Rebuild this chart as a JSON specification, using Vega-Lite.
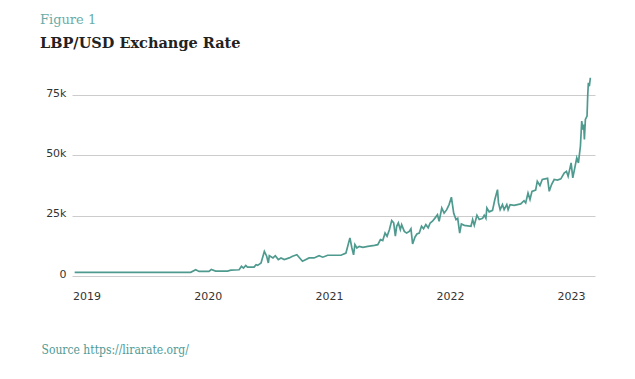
{
  "$schema": "https://vega.github.io/schema/vega-lite/v6.json",
  "width": 523,
  "height": 205,
  "padding": {"left": 40, "top": 13, "right": 41, "bottom": 10},
  "background": "white",
  "title": {
    "text": "Figure 1",
    "subtitle": "LBP/USD Exchange Rate",
    "anchor": "start",
    "frame": "bounds",
    "dx": -1,
    "font": "DejaVu Serif",
    "fontSize": 13,
    "fontWeight": "normal",
    "color": "#6aada8",
    "subtitleFont": "DejaVu Serif",
    "subtitleFontSize": 14.5,
    "subtitleFontWeight": "bold",
    "subtitleColor": "#222222",
    "subtitlePadding": 10,
    "offset": 21
  },
  "data": {
    "values": [
      {"date": "2018-11-26", "rate": 1507},
      {"date": "2019-11-11", "rate": 1507},
      {"date": "2019-11-26", "rate": 2600},
      {"date": "2019-12-06", "rate": 1900},
      {"date": "2020-01-05", "rate": 1950},
      {"date": "2020-01-12", "rate": 2700},
      {"date": "2020-01-25", "rate": 2050},
      {"date": "2020-02-09", "rate": 2050},
      {"date": "2020-03-01", "rate": 2050},
      {"date": "2020-03-11", "rate": 2400},
      {"date": "2020-04-05", "rate": 2600},
      {"date": "2020-04-12", "rate": 4000},
      {"date": "2020-04-18", "rate": 3300},
      {"date": "2020-04-25", "rate": 4400},
      {"date": "2020-04-30", "rate": 3700},
      {"date": "2020-05-20", "rate": 3700},
      {"date": "2020-05-26", "rate": 4700},
      {"date": "2020-05-31", "rate": 4400},
      {"date": "2020-06-10", "rate": 5400},
      {"date": "2020-06-20", "rate": 10200},
      {"date": "2020-06-27", "rate": 8200},
      {"date": "2020-07-02", "rate": 5400},
      {"date": "2020-07-05", "rate": 8400},
      {"date": "2020-07-16", "rate": 7500},
      {"date": "2020-07-23", "rate": 8400},
      {"date": "2020-08-01", "rate": 6800},
      {"date": "2020-08-09", "rate": 7500},
      {"date": "2020-08-19", "rate": 6800},
      {"date": "2020-09-03", "rate": 7500},
      {"date": "2020-09-13", "rate": 8200},
      {"date": "2020-09-26", "rate": 8800},
      {"date": "2020-10-13", "rate": 6100},
      {"date": "2020-11-02", "rate": 7500},
      {"date": "2020-11-17", "rate": 7500},
      {"date": "2020-12-02", "rate": 8400},
      {"date": "2020-12-13", "rate": 7800},
      {"date": "2020-12-28", "rate": 8600},
      {"date": "2021-02-06", "rate": 8600},
      {"date": "2021-02-21", "rate": 9500},
      {"date": "2021-03-05", "rate": 15800},
      {"date": "2021-03-11", "rate": 11600},
      {"date": "2021-03-16", "rate": 8800},
      {"date": "2021-03-20", "rate": 13000},
      {"date": "2021-03-26", "rate": 11600},
      {"date": "2021-04-02", "rate": 12300},
      {"date": "2021-04-13", "rate": 11900},
      {"date": "2021-04-28", "rate": 12300},
      {"date": "2021-05-18", "rate": 12700},
      {"date": "2021-05-28", "rate": 13000},
      {"date": "2021-06-05", "rate": 15100},
      {"date": "2021-06-12", "rate": 14700},
      {"date": "2021-06-19", "rate": 17800},
      {"date": "2021-06-25", "rate": 16500},
      {"date": "2021-07-02", "rate": 19200},
      {"date": "2021-07-09", "rate": 23000},
      {"date": "2021-07-15", "rate": 22000},
      {"date": "2021-07-20", "rate": 16500},
      {"date": "2021-07-24", "rate": 20600},
      {"date": "2021-07-29", "rate": 22000},
      {"date": "2021-08-04", "rate": 19200},
      {"date": "2021-08-08", "rate": 21300},
      {"date": "2021-08-16", "rate": 18500},
      {"date": "2021-08-23", "rate": 17800},
      {"date": "2021-08-31", "rate": 18500},
      {"date": "2021-09-05", "rate": 19600},
      {"date": "2021-09-10", "rate": 13300},
      {"date": "2021-09-17", "rate": 16100},
      {"date": "2021-09-23", "rate": 17400},
      {"date": "2021-09-30", "rate": 17800},
      {"date": "2021-10-07", "rate": 20600},
      {"date": "2021-10-13", "rate": 19600},
      {"date": "2021-10-20", "rate": 21300},
      {"date": "2021-10-27", "rate": 20000},
      {"date": "2021-11-02", "rate": 22000},
      {"date": "2021-11-09", "rate": 22700},
      {"date": "2021-11-17", "rate": 24100},
      {"date": "2021-11-24", "rate": 25400},
      {"date": "2021-11-29", "rate": 22700},
      {"date": "2021-12-07", "rate": 28200},
      {"date": "2021-12-14", "rate": 26100},
      {"date": "2021-12-22", "rate": 27500},
      {"date": "2021-12-29", "rate": 29600},
      {"date": "2022-01-05", "rate": 32700},
      {"date": "2022-01-12", "rate": 26000},
      {"date": "2022-01-19", "rate": 23400},
      {"date": "2022-01-24", "rate": 23900},
      {"date": "2022-01-30", "rate": 17800},
      {"date": "2022-02-04", "rate": 21600},
      {"date": "2022-02-13", "rate": 21000},
      {"date": "2022-03-05", "rate": 20600},
      {"date": "2022-03-10", "rate": 23400},
      {"date": "2022-03-15", "rate": 21000},
      {"date": "2022-03-23", "rate": 25200},
      {"date": "2022-03-30", "rate": 23400},
      {"date": "2022-04-09", "rate": 23900},
      {"date": "2022-04-14", "rate": 25200},
      {"date": "2022-04-19", "rate": 23900},
      {"date": "2022-04-22", "rate": 28200},
      {"date": "2022-04-29", "rate": 26600},
      {"date": "2022-05-09", "rate": 27200},
      {"date": "2022-05-16", "rate": 31700},
      {"date": "2022-05-24", "rate": 35800},
      {"date": "2022-05-27", "rate": 30300},
      {"date": "2022-06-01", "rate": 27500},
      {"date": "2022-06-08", "rate": 29600},
      {"date": "2022-06-13", "rate": 27500},
      {"date": "2022-06-21", "rate": 29600},
      {"date": "2022-06-25", "rate": 27500},
      {"date": "2022-07-01", "rate": 29600},
      {"date": "2022-07-13", "rate": 29300},
      {"date": "2022-08-02", "rate": 29900},
      {"date": "2022-08-12", "rate": 31200},
      {"date": "2022-08-17", "rate": 30300},
      {"date": "2022-08-24", "rate": 34400},
      {"date": "2022-08-30", "rate": 31700},
      {"date": "2022-09-05", "rate": 35100},
      {"date": "2022-09-16", "rate": 35600},
      {"date": "2022-09-21", "rate": 39300},
      {"date": "2022-09-29", "rate": 37500},
      {"date": "2022-10-06", "rate": 40000},
      {"date": "2022-10-22", "rate": 40500},
      {"date": "2022-10-27", "rate": 35100},
      {"date": "2022-11-03", "rate": 37900},
      {"date": "2022-11-11", "rate": 40000},
      {"date": "2022-11-21", "rate": 39800},
      {"date": "2022-12-01", "rate": 40300},
      {"date": "2022-12-11", "rate": 42700},
      {"date": "2022-12-18", "rate": 43400},
      {"date": "2022-12-23", "rate": 41300},
      {"date": "2023-01-01", "rate": 46900},
      {"date": "2023-01-06", "rate": 40700},
      {"date": "2023-01-11", "rate": 44100},
      {"date": "2023-01-18", "rate": 49000},
      {"date": "2023-01-23", "rate": 46900},
      {"date": "2023-01-29", "rate": 53800},
      {"date": "2023-02-02", "rate": 64200},
      {"date": "2023-02-05", "rate": 60700},
      {"date": "2023-02-08", "rate": 62800},
      {"date": "2023-02-10", "rate": 56600},
      {"date": "2023-02-13", "rate": 64900},
      {"date": "2023-02-18", "rate": 66300},
      {"date": "2023-02-20", "rate": 74600},
      {"date": "2023-02-22", "rate": 80100},
      {"date": "2023-02-25", "rate": 78700},
      {"date": "2023-02-28", "rate": 82200}
    ]
  },
  "mark": {"type": "line", "color": "#4f9a8f", "strokeWidth": 1.7},
  "encoding": {
    "x": {
      "field": "date",
      "type": "temporal",
      "scale": {
        "type": "utc",
        "domain": [
          {"year": 2018, "month": 11, "date": 18, "utc": true},
          {"year": 2023, "month": 3, "date": 14, "utc": true}
        ]
      },
      "axis": {
        "values": [
          {"year": 2019, "month": 1, "date": 1, "utc": true},
          {"year": 2020, "month": 1, "date": 1, "utc": true},
          {"year": 2021, "month": 1, "date": 1, "utc": true},
          {"year": 2022, "month": 1, "date": 1, "utc": true},
          {"year": 2023, "month": 1, "date": 1, "utc": true}
        ],
        "format": "%Y",
        "grid": false,
        "domain": false,
        "ticks": false,
        "tickSize": 0,
        "labelPadding": 14,
        "labelFont": "DejaVu Sans",
        "labelFontSize": 11,
        "labelColor": "#333333",
        "title": "Source https://lirarate.org/",
        "titleFont": "DejaVu Serif Condensed, DejaVu Serif",
        "titleFontSize": 12,
        "titleFontWeight": "normal",
        "titleColor": "#4f9a96",
        "titleAnchor": "start",
        "titleAlign": "left",
        "titleBaseline": "alphabetic",
        "titleX": -31,
        "titleY": 77
      }
    },
    "y": {
      "field": "rate",
      "type": "quantitative",
      "scale": {"domain": [0, 85000]},
      "axis": {
        "values": [0, 25000, 50000, 75000],
        "labelExpr": "datum.value == 0 ? '0' : format(datum.value / 1000, 'd') + 'k'",
        "grid": true,
        "gridColor": "#cccccc",
        "gridWidth": 1,
        "domain": false,
        "ticks": false,
        "tickSize": 0,
        "labelPadding": 6,
        "labelBaseline": "alphabetic",
        "labelOffset": 1,
        "labelFont": "DejaVu Sans",
        "labelFontSize": 11,
        "labelColor": "#333333",
        "title": null
      }
    }
  },
  "config": {"view": {"stroke": null}}
}
